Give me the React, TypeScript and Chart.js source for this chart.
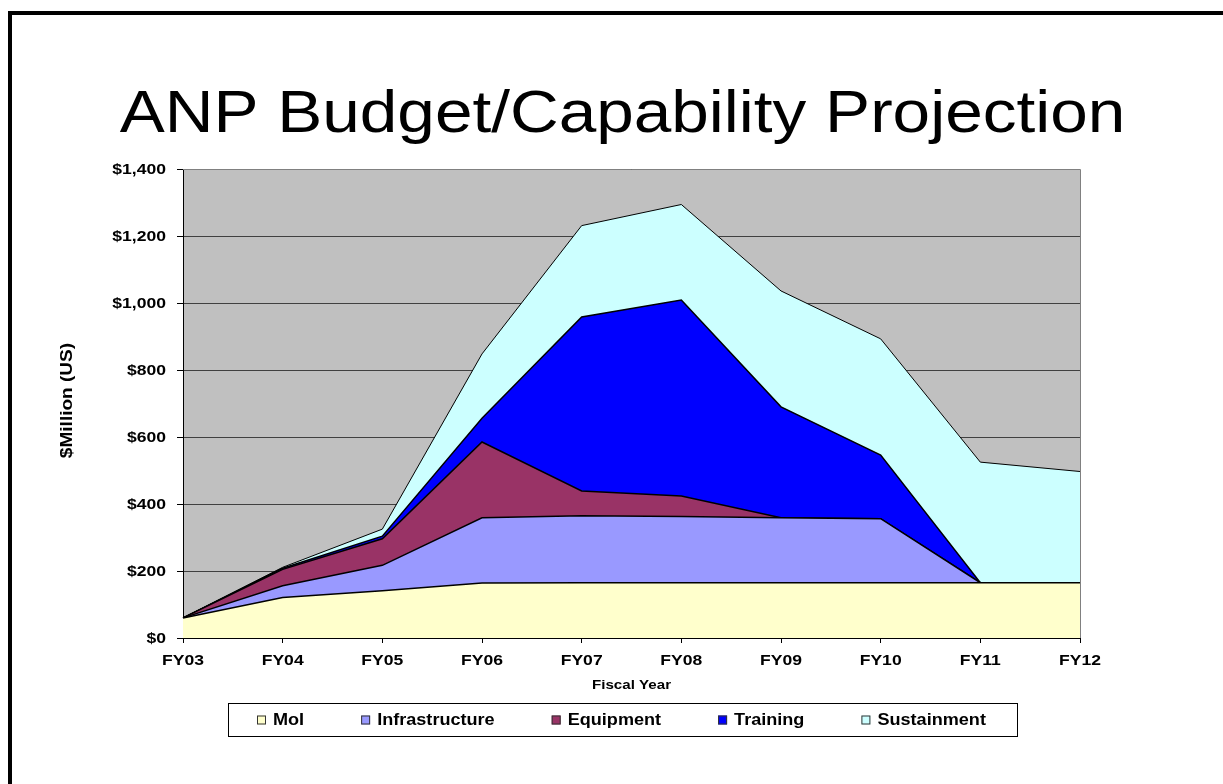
import { useEffect, useRef } from "react";
import { Chart, registerables } from "chart.js";

Chart.register(...registerables);

// ---- data ----
const years = ["FY03", "FY04", "FY05", "FY06", "FY07", "FY08", "FY09", "FY10", "FY11", "FY12"];
const moi = [60, 121, 141, 164, 165, 165, 165, 165, 165, 165];
const infrastructure = [0, 35, 76, 195, 200, 198, 194, 191, 0, 0];
const equipment = [0, 49, 79, 226, 74, 61, 0, 0, 0, 0];
const training = [0, 3, 8, 71, 519, 585, 331, 190, 0, 0];
const sustainment = [0, 3, 21, 192, 273, 285, 346, 347, 360, 332];

const seriesNames = ["MoI", "Infrastructure", "Equipment", "Training", "Sustainment"];
const seriesColors = ["#FFFFCC", "#9999FF", "#993366", "#0000FF", "#CCFFFF"];

const yTickValues = [0, 200, 400, 600, 800, 1000, 1200, 1400];
const yTickLabels = ["$0", "$200", "$400", "$600", "$800", "$1,000", "$1,200", "$1,400"];

const titleText = "ANP Budget/Capability Projection";
const xTitleText = "Fiscal Year";
const yTitleText = "$Million (US)";

const FONT = '"Liberation Sans", Arial, Helvetica, sans-serif';

function drawText(
  ctx: CanvasRenderingContext2D,
  text: string,
  x: number,
  y: number,
  font: string,
  align: CanvasTextAlign,
  baseline: CanvasTextBaseline,
  sx: number,
  rot = 0
) {
  ctx.save();
  ctx.translate(x, y);
  if (rot) ctx.rotate(rot);
  ctx.scale(sx, 1);
  ctx.font = font;
  ctx.textAlign = align;
  ctx.textBaseline = baseline;
  ctx.fillStyle = "#000";
  ctx.fillText(text, 0, 0);
  ctx.restore();
}

const decorPlugin = {
  id: "decor",
  beforeDraw(chart: any) {
    const { ctx, chartArea } = chart;
    ctx.save();
    ctx.fillStyle = "#fff";
    ctx.fillRect(0, 0, chart.width, chart.height);
    ctx.fillStyle = "#C0C0C0";
    ctx.fillRect(chartArea.left, chartArea.top, chartArea.right - chartArea.left, chartArea.bottom - chartArea.top);
    ctx.restore();
  },
  afterDatasetsDraw(chart: any) {
    const { ctx, chartArea } = chart;
    ctx.save();
    ctx.strokeStyle = "#808080";
    ctx.lineWidth = 1;
    ctx.beginPath();
    ctx.moveTo(chartArea.left, Math.round(chartArea.top) + 0.5);
    ctx.lineTo(Math.round(chartArea.right) + 0.5, Math.round(chartArea.top) + 0.5);
    ctx.lineTo(Math.round(chartArea.right) + 0.5, chartArea.bottom);
    ctx.stroke();
    ctx.restore();
  },
  afterDraw(chart: any) {
    const { ctx, chartArea } = chart;
    const xs = chart.scales.x;
    const ys = chart.scales.y;

    // outer frame
    ctx.save();
    ctx.fillStyle = "#000";
    ctx.fillRect(8, 11, chart.width, 4);
    ctx.fillRect(8, 11, 4, chart.height);
    ctx.restore();

    // title
    drawText(ctx, titleText, 622.5, 132, `60px ${FONT}`, "center", "alphabetic", 1.125);

    // y tick labels
    const tickFont = `bold 15px ${FONT}`;
    yTickValues.forEach((v, i) => {
      const y = ys.getPixelForValue(v);
      drawText(ctx, yTickLabels[i], chartArea.left - 17, y + 1, tickFont, "right", "middle", 1.17);
    });

    // x tick labels
    years.forEach((lab, i) => {
      const x = xs.getPixelForTick(i);
      drawText(ctx, lab, x, chartArea.bottom + 23, tickFont, "center", "middle", 1.17);
    });

    // axis titles
    drawText(ctx, xTitleText, (chartArea.left + chartArea.right) / 2, chartArea.bottom + 48, `bold 12px ${FONT}`, "center", "middle", 1.26);
    drawText(ctx, yTitleText, 68, (chartArea.top + chartArea.bottom) / 2 - 3, `bold 16px ${FONT}`, "center", "middle", 1.19, -Math.PI / 2);

    // legend
    const box = { x: 228, y: 703, w: 789, h: 33 };
    ctx.save();
    ctx.strokeStyle = "#000";
    ctx.lineWidth = 1;
    ctx.strokeRect(box.x + 0.5, box.y + 0.5, box.w, box.h);
    ctx.restore();
    const legFont = `bold 16px ${FONT}`;
    const legSx = 1.13;
    ctx.save();
    ctx.font = legFont;
    let lx = box.x + 29;
    const cy = box.y + box.h / 2;
    seriesNames.forEach((name, i) => {
      ctx.fillStyle = seriesColors[i];
      ctx.fillRect(lx, cy - 4, 9, 9);
      ctx.strokeStyle = "#333";
      ctx.lineWidth = 1;
      ctx.strokeRect(lx + 0.5, cy - 3.5, 8, 8);
      const tx = lx + 16;
      drawText(ctx, name, tx, cy + 1, legFont, "left", "middle", legSx);
      ctx.font = legFont;
      const w = ctx.measureText(name).width * legSx;
      lx = tx + w + 57;
    });
    ctx.restore();
  },
};

export default function App() {
  const canvasRef = useRef<HTMLCanvasElement | null>(null);

  useEffect(() => {
    document.body.style.margin = "0";
    const canvas = canvasRef.current;
    if (!canvas) return;
    const allSeries = [moi, infrastructure, equipment, training, sustainment];
    const chart = new Chart(canvas, {
      type: "line",
      data: {
        labels: years,
        datasets: allSeries.map((d, i) => ({
          label: seriesNames[i],
          data: d,
          backgroundColor: seriesColors[i],
          borderColor: "#000",
          borderWidth: i === 4 ? 1 : 1.5,
          fill: i === 0 ? "origin" : "-1",
          pointRadius: 0,
          pointHoverRadius: 0,
          tension: 0,
        })),
      },
      options: {
        animation: false,
        responsive: false,
        maintainAspectRatio: false,
        events: [],
        layout: { padding: { left: 43, right: 143, top: 169, bottom: 86 } },
        plugins: {
          legend: { display: false },
          title: { display: false },
          tooltip: { enabled: false },
        },
        scales: {
          x: {
            type: "category",
            offset: false,
            grid: { display: true, drawOnChartArea: false, drawTicks: true, tickLength: 5, tickColor: "#000" },
            border: { display: true, color: "#000", width: 1 },
            ticks: { display: false },
            afterFit: (s: any) => {
              s.height = 60;
            },
          },
          y: {
            stacked: true,
            min: 0,
            max: 1400,
            ticks: { display: false, stepSize: 200 },
            grid: { color: "#404040", lineWidth: 1, tickLength: 6, tickColor: "#000" },
            border: { display: true, color: "#000", width: 1 },
            afterFit: (s: any) => {
              s.width = 140;
            },
          },
        },
      },
      plugins: [decorPlugin],
    } as any);
    return () => chart.destroy();
  }, []);

  return (
    <div style={{ position: "fixed", left: 0, top: 0, width: 1223, height: 784, background: "#fff" }}>
      <canvas ref={canvasRef} width={1223} height={784} style={{ display: "block" }} />
    </div>
  );
}
